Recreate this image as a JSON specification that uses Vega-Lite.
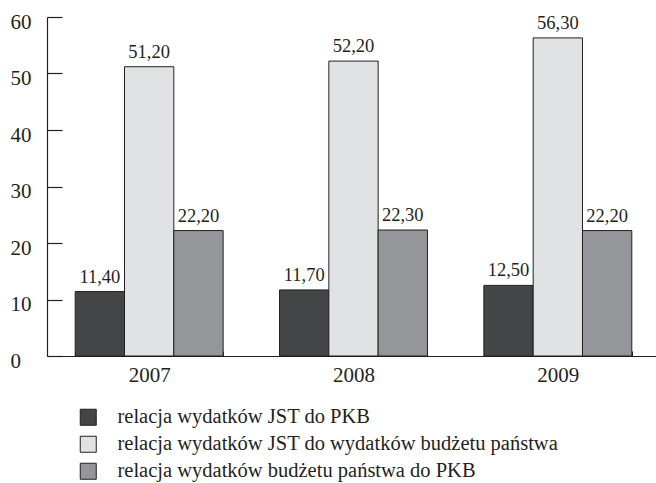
{
  "$schema": "https://vega.github.io/schema/vega-lite/v6.json",
  "autosize": "none",
  "width": 613,
  "height": 339,
  "padding": {"left": 47, "top": 17, "right": 0, "bottom": 127},
  "background": "white",
  "config": {
    "locale": {"number": {"decimal": ",", "thousands": " ", "grouping": [3], "currency": ["", " zł"]}},
    "view": {"stroke": null},
    "font": "Liberation Serif, Times New Roman, serif"
  },
  "data": {
    "values": [
      {"rok": "2007", "seria": "relacja wydatków JST do PKB", "wartosc": 11.4},
      {"rok": "2007", "seria": "relacja wydatków JST do wydatków budżetu państwa", "wartosc": 51.2},
      {"rok": "2007", "seria": "relacja wydatków budżetu państwa do PKB", "wartosc": 22.2},
      {"rok": "2008", "seria": "relacja wydatków JST do PKB", "wartosc": 11.7},
      {"rok": "2008", "seria": "relacja wydatków JST do wydatków budżetu państwa", "wartosc": 52.2},
      {"rok": "2008", "seria": "relacja wydatków budżetu państwa do PKB", "wartosc": 22.3},
      {"rok": "2009", "seria": "relacja wydatków JST do PKB", "wartosc": 12.5},
      {"rok": "2009", "seria": "relacja wydatków JST do wydatków budżetu państwa", "wartosc": 56.3},
      {"rok": "2009", "seria": "relacja wydatków budżetu państwa do PKB", "wartosc": 22.2}
    ]
  },
  "encoding": {
    "x": {
      "field": "rok", "type": "nominal",
      "scale": {"paddingInner": 0.276, "paddingOuter": 0.138},
      "axis": {
        "title": null, "labelAngle": 0, "labelFontSize": 21, "labelColor": "#231f20",
        "labelPadding": 13, "domainColor": "#231f20", "domainWidth": 1.2,
        "tickColor": "#231f20", "tickSize": -5, "tickBand": "extent", "labelFont": "Liberation Serif, Times New Roman, serif"
      }
    },
    "xOffset": {
      "field": "seria", "type": "nominal",
      "scale": {"domain": ["relacja wydatków JST do PKB", "relacja wydatków JST do wydatków budżetu państwa", "relacja wydatków budżetu państwa do PKB"], "paddingInner": 0, "paddingOuter": 0}
    },
    "y": {
      "field": "wartosc", "type": "quantitative",
      "scale": {"domain": [0, 60], "nice": false},
      "axis": {
        "title": null, "values": [0, 10, 20, 30, 40, 50, 60], "grid": false,
        "labelFontSize": 21, "labelColor": "#231f20", "labelAlign": "left",
        "labelPadding": 52, "labelOffset": 5, "tickSize": -15, "tickColor": "#231f20",
        "domainColor": "#231f20", "domainWidth": 1.2, "tickWidth": 1.2, "labelFont": "Liberation Serif, Times New Roman, serif"
      }
    }
  },
  "layer": [
    {
      "mark": {"type": "bar", "stroke": "#231f20", "strokeWidth": 1},
      "encoding": {
        "fill": {
          "field": "seria", "type": "nominal",
          "scale": {
            "domain": ["relacja wydatków JST do PKB", "relacja wydatków JST do wydatków budżetu państwa", "relacja wydatków budżetu państwa do PKB"],
            "range": ["#444547", "#e1e2e4", "#95969a"]
          },
          "legend": {
            "title": null, "orient": "none", "legendX": 31, "legendY": 390,
            "padding": 0, "symbolType": "square", "symbolSize": 256,
            "symbolStrokeColor": "#231f20", "symbolStrokeWidth": 1, "symbolOpacity": 1,
            "labelFontSize": 20.5, "labelColor": "#231f20", "labelOffset": 19,
            "rowPadding": 6, "labelLimit": 600, "labelFont": "Liberation Serif, Times New Roman, serif"
          }
        }
      }
    },
    {
      "mark": {"type": "text", "baseline": "alphabetic", "dy": -9, "fontSize": 18.5, "color": "#231f20", "font": "Liberation Serif, Times New Roman, serif"},
      "encoding": {
        "text": {"field": "wartosc", "type": "quantitative", "format": ".2f"}
      }
    }
  ]
}
